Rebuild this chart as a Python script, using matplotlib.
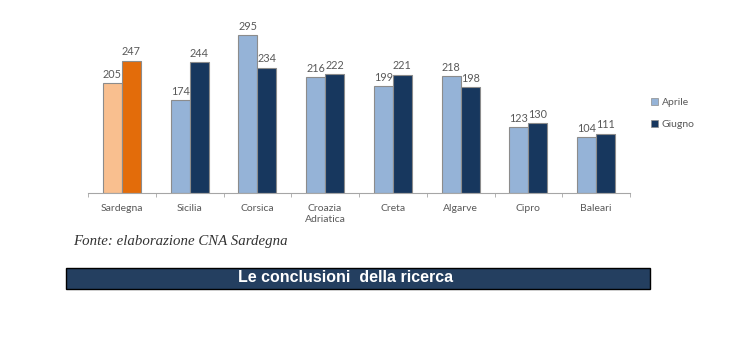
import numpy as np
import matplotlib
matplotlib.use("Agg")
import matplotlib.pyplot as plt
from matplotlib.patches import Rectangle

# dati: arrivi per destinazione
destinazioni = ["Sardegna", "Sicilia", "Corsica", "Croazia\nAdriatica", "Creta",
                "Algarve", "Cipro", "Baleari"]
aprile = [205, 174, 295, 216, 199, 218, 123, 104]
giugno = [247, 244, 234, 222, 221, 198, 130, 111]

col_aprile = ["#F9BF8F"] + ["#95B3D7"] * 7
col_giugno = ["#E36C0A"] + ["#17375E"] * 7
grigio = "#595959"

plt.rcParams['font.family'] = ['Lato', 'DejaVu Sans']

fig = plt.figure(figsize=(7.37, 3.39), dpi=100)
ax = fig.add_axes([88 / 737, 1 - 193 / 339, 542 / 737, 171.4 / 339])

x = np.arange(len(destinazioni))
w = 0.28
b1 = ax.bar(x - w / 2, aprile, w, color=col_aprile, edgecolor="#8C8C8C", linewidth=0.8,
            label="Aprile")
b2 = ax.bar(x + w / 2, giugno, w, color=col_giugno, edgecolor="#8C8C8C", linewidth=0.8,
            label="Giugno")

for bars, vals in ((b1, aprile), (b2, giugno)):
    for r, v in zip(bars, vals):
        ax.text(r.get_x() + r.get_width() / 2, v + 6, str(v), ha="center", va="bottom",
                fontsize=7.8, color=grigio)

ax.set_xlim(-0.5, len(destinazioni) - 0.5)
ax.set_ylim(0, 320)
ax.set_yticks([])
for s in ("top", "right", "left"):
    ax.spines[s].set_visible(False)
ax.spines["bottom"].set_color("#A6A6A6")
ax.set_xticks(np.arange(len(destinazioni) + 1) - 0.5, minor=True)
ax.set_xticks(x)
ax.set_xticklabels(destinazioni, fontsize=7.5, color=grigio, linespacing=1.3)
ax.tick_params(axis="x", which="major", length=0, pad=8)
ax.tick_params(axis="x", which="minor", length=3, color="#A6A6A6")

# legenda a destra
h1 = Rectangle((0, 0), 1, 1, facecolor="#95B3D7", edgecolor="#8C8C8C", linewidth=0.5)
h2 = Rectangle((0, 0), 1, 1, facecolor="#17375E", edgecolor="#8C8C8C", linewidth=0.5)
fig.legend([h1, h2], ["Aprile", "Giugno"], loc="upper left",
           bbox_to_anchor=(647 / 737, 1 - 94 / 339), frameon=False, fontsize=7.5,
           handlelength=0.7, handleheight=0.7, handletextpad=0.3, labelspacing=1.2,
           labelcolor=grigio, borderaxespad=0)

fig.text(73 / 737, 1 - 242 / 339, "Fonte: elaborazione CNA Sardegna", fontsize=10.7,
         style="italic", family="Liberation Serif", color="#333333", va="center")

box = Rectangle((66 / 737, 1 - 289 / 339), (650 - 66) / 737, 21 / 339,
                transform=fig.transFigure, facecolor="#243F60", edgecolor="black",
                linewidth=1)
fig.patches.append(box)
fig.text(346 / 737, 1 - 277.5 / 339, "Le conclusioni  della ricerca", fontsize=11.5,
         weight="bold", family="Liberation Sans", color="white", ha="center", va="center")

fig.savefig("out.png", dpi=100)
